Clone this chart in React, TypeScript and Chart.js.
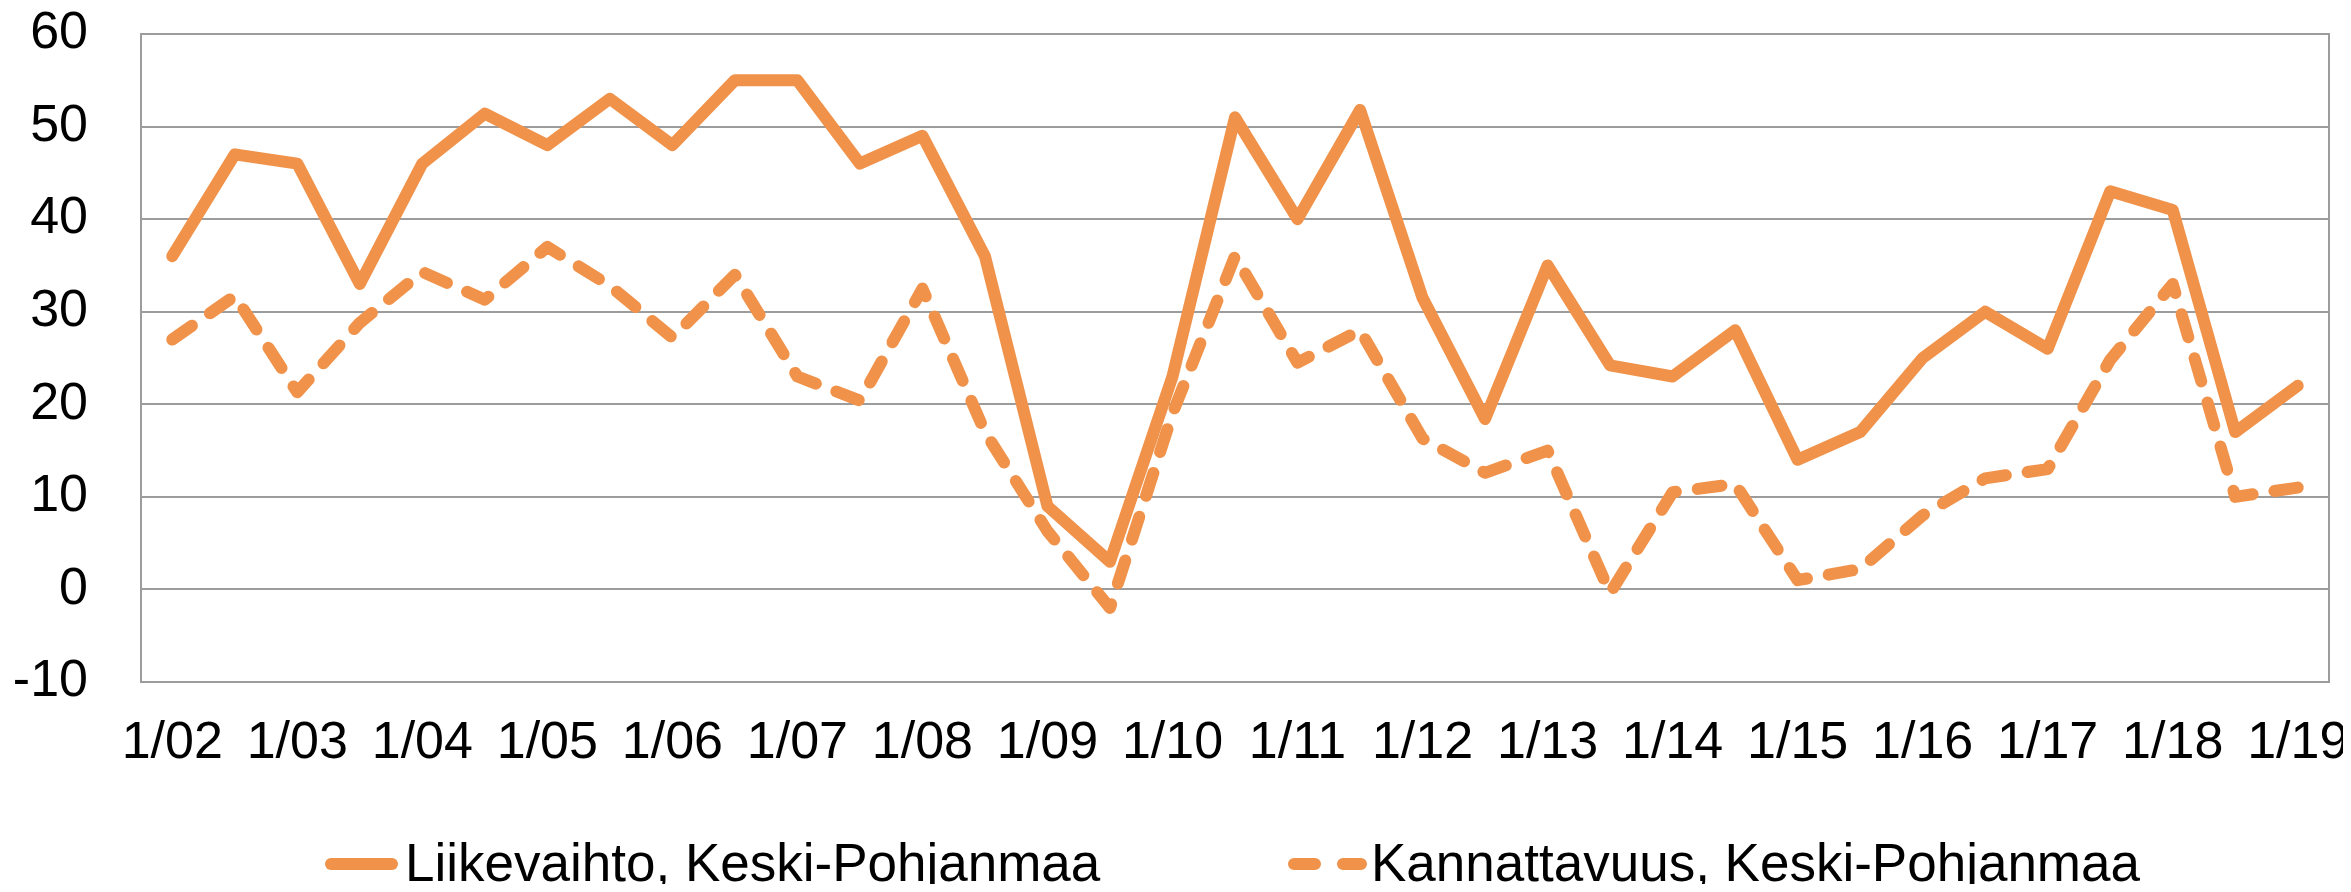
import React, { useEffect, useRef } from 'react';
import { Chart, registerables } from 'chart.js';

Chart.register(...registerables);

// ---- Data ----
const categories = [
  '1/02', '7/02', '1/03', '7/03', '1/04', '7/04', '1/05', '7/05', '1/06', '7/06',
  '1/07', '7/07', '1/08', '7/08', '1/09', '7/09', '1/10', '7/10', '1/11', '7/11',
  '1/12', '7/12', '1/13', '7/13', '1/14', '7/14', '1/15', '7/15', '1/16', '7/16',
  '1/17', '7/17', '1/18', '7/18', '1/19',
];

const liikevaihto = [
  36, 47, 46, 33, 46, 51.4, 48, 53, 48, 55,
  55, 46, 49, 36, 9, 3, 23, 51, 40, 51.8,
  31.5, 18.4, 35, 24.2, 23, 28, 14, 17, 25, 30,
  26, 43, 41, 17, 22,
];

const kannattavuus = [
  27, 31.7, 21.3, 28.8, 34.3, 31.3, 37, 32.8, 27.2, 34,
  23, 20.4, 32.5, 17, 6.3, -2, 19, 36, 24.5, 28,
  16.3, 12.6, 15, -0.4, 10.5, 11.4, 1, 2.2, 8, 12,
  13, 24.8, 33, 10, 11,
];

const seriesNames = ['Liikevaihto, Keski-Pohjanmaa', 'Kannattavuus, Keski-Pohjanmaa'];

const yMin = -10;
const yMax = 60;
const yStep = 10;

// ---- Styling ----
const ORANGE = 'rgb(240,146,74)';
const GRID = '#9c9c9c';
const FONT_FAMILY = '"Liberation Sans", Arial, Helvetica, sans-serif';
const W = 2343;
const H = 884;
const LINE_W = 12;

const legendPlugin = {
  id: 'customLegend',
  afterDraw(chart: any) {
    const ctx = chart.ctx as CanvasRenderingContext2D;
    const ds = chart.data.datasets;
    const items = [
      { x0: 323, x1: 384, tx: 397, dash: [] as number[] },
      { x0: 1286, x1: 1353, tx: 1363, dash: [21, 28] },
    ];
    const lineY = 856;
    const baseY = 873;
    ctx.save();
    items.forEach((it, i) => {
      const d = ds[i];
      ctx.strokeStyle = d.borderColor;
      ctx.lineWidth = d.borderWidth;
      ctx.lineCap = 'round';
      ctx.lineJoin = 'round';
      ctx.setLineDash(it.dash);
      ctx.beginPath();
      ctx.moveTo(it.x0, lineY);
      ctx.lineTo(it.x1, lineY);
      ctx.stroke();
      ctx.setLineDash([]);
      ctx.fillStyle = '#000';
      ctx.font = `53px ${FONT_FAMILY}`;
      ctx.textBaseline = 'alphabetic';
      ctx.textAlign = 'left';
      ctx.fillText(d.label, it.tx, baseY);
    });
    ctx.restore();
  },
};

export default function App() {
  const canvasRef = useRef<HTMLCanvasElement | null>(null);

  useEffect(() => {
    if (!canvasRef.current) return;
    const chart = new Chart(canvasRef.current, {
      type: 'line',
      data: {
        labels: categories,
        datasets: [
          {
            label: seriesNames[0],
            data: liikevaihto,
            borderColor: ORANGE,
            backgroundColor: ORANGE,
            borderWidth: LINE_W,
            borderCapStyle: 'round',
            borderJoinStyle: 'round',
            pointRadius: 0,
            pointHoverRadius: 0,
            tension: 0,
            fill: false,
          },
          {
            label: seriesNames[1],
            data: kannattavuus,
            borderColor: ORANGE,
            backgroundColor: ORANGE,
            borderWidth: LINE_W,
            borderDash: [24, 22],
            borderCapStyle: 'round',
            borderJoinStyle: 'round',
            pointRadius: 0,
            pointHoverRadius: 0,
            tension: 0,
            fill: false,
          },
        ],
      },
      options: {
        responsive: false,
        animation: false,
        devicePixelRatio: 1,
        layout: { padding: { top: 26, left: 0, right: 0, bottom: 0 } },
        plugins: {
          legend: { display: false },
          tooltip: { enabled: false },
          title: { display: false },
        },
        scales: {
          x: {
            type: 'category',
            offset: true,
            grid: { display: false, drawTicks: false },
            border: { display: false },
            ticks: {
              autoSkip: false,
              maxRotation: 0,
              minRotation: 0,
              padding: 30,
              color: '#000',
              font: { size: 52, family: FONT_FAMILY },
              callback: (_v: any, i: number) => (i % 2 === 0 ? categories[i] : ''),
            },
            afterFit: (scale: any) => {
              scale.height = 210;
              scale.paddingLeft = 0;
              scale.paddingRight = 0;
            },
          },
          y: {
            type: 'linear',
            position: 'left',
            min: yMin,
            max: yMax,
            grid: { color: GRID, lineWidth: 2, drawTicks: false },
            border: { display: true, color: GRID, width: 2 },
            ticks: {
              stepSize: yStep,
              padding: 53,
              color: '#000',
              font: { size: 52, family: FONT_FAMILY },
            },
            afterFit: (scale: any) => {
              scale.width = 133;
              scale.paddingTop = 0;
              scale.paddingBottom = 0;
            },
          },
          y2: {
            type: 'linear',
            position: 'right',
            min: yMin,
            max: yMax,
            grid: { display: false, drawTicks: false },
            border: { display: true, color: GRID, width: 2 },
            ticks: { display: false },
            afterFit: (scale: any) => {
              scale.width = 22;
              scale.paddingTop = 0;
              scale.paddingBottom = 0;
            },
          },
        },
      },
      plugins: [legendPlugin],
    });
    return () => chart.destroy();
  }, []);

  return (
    <div style={{ width: W, height: H, overflow: 'hidden', marginBottom: -8 }}>
      <canvas ref={canvasRef} width={W} height={H} style={{ display: 'block', width: W, height: H }} />
    </div>
  );
}
